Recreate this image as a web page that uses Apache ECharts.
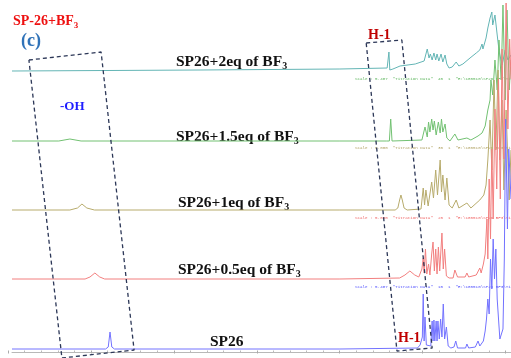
<!DOCTYPE html>
<html><head><meta charset="utf-8">
<script src="https://cdn.jsdelivr.net/npm/echarts@6/dist/echarts.min.js"></script>
<style>html,body{margin:0;padding:0;background:#fff}#c{width:511px;height:358px}</style>
</head><body><div id="c"></div><script>
// 1H NMR titration of SP26 with BF3 — stacked spectra, chemical shift in ppm.
// Each spectrum: [ppm, intensity above its own baseline]
const spec_2eq = [
  [13.80,-1],[9.58,0],[6.44,1],[5.38,2],[5.36,2],[5.34,18],[5.32,0],[5.30,-1],[5.25,1],[5.09,4],[4.75,6],[4.55,9],
  [4.48,21],[4.44,12],[4.41,16],[4.37,10],[4.33,17],[4.29,10],[4.26,16],[4.22,9],[4.17,16],[4.13,8],[4.08,15],[4.04,6],[3.99,2],
  [3.92,3],[3.83,8],[3.77,4],[3.68,6],[3.52,12],[3.38,17],[3.30,20],[3.25,26],[3.23,21],[3.16,32],[3.12,42],[3.07,52],[3.03,58],
  [3.01,45],[2.96,55],[2.91,35],[2.87,20],[2.85,15],[2.80,5],[2.73,20],[2.67,10],[2.60,15]
];
const spec_1_5eq = [
  [13.80,0],[12.75,0],[12.50,2],[12.25,0],[9.00,0],[6.44,0],[5.40,0],[5.33,0],[5.30,22],[5.27,0],[4.60,1],
  [4.53,14],[4.48,4],[4.45,19],[4.42,9],[4.38,22],[4.35,11],[4.32,20],[4.28,6],[4.23,19],[4.19,8],[4.16,22],[4.13,9],[4.08,17],[4.04,3],
  [3.97,0],[3.86,7],[3.79,1],[3.59,3],[3.50,1],[3.34,5],[3.25,8],[3.18,15],[3.12,31],[3.07,41],[3.05,61],[3.01,46],[2.96,81],
  [2.91,51],[2.87,101],[2.82,61],[2.78,136],[2.73,41],[2.69,131],[2.64,51],[2.60,81]
];
const spec_1eq = [
  [13.80,0],[12.50,0],[12.33,2],[12.23,6],[12.12,2],[11.95,0],[6.44,0],[5.20,0],[5.14,2],[5.10,10],[5.07,15],[5.04,10],[5.00,2],[4.93,0],
  [4.62,1],[4.57,22],[4.54,5],[4.51,20],[4.46,4],[4.38,28],[4.34,12],[4.29,40],[4.25,15],[4.19,50],[4.16,18],[4.13,35],[4.08,10],[4.04,32],
  [3.99,5],[3.92,2],[3.83,10],[3.77,2],[3.59,7],[3.50,2],[3.30,10],[3.21,15],[3.16,25],[3.12,50],[3.07,90],[3.03,40],[2.98,130],
  [2.94,60],[2.89,140],[2.85,50],[2.80,110],[2.76,20],[2.71,100],[2.64,10],[2.60,60]
];
const spec_0_5eq = [
  [13.80,0],[12.16,0],[12.05,2],[11.94,6],[11.83,2],[11.72,0],[6.44,0],[5.10,1],[4.98,4],[4.87,8],[4.76,4],[4.67,2],[4.65,1],
  [4.60,10],[4.57,21],[4.55,6],[4.52,30],[4.49,5],[4.45,15],[4.42,4],[4.38,25],[4.35,37],[4.32,8],[4.29,30],[4.26,5],[4.23,32],
  [4.20,8],[4.15,46],[4.12,10],[4.09,30],[4.05,3],[3.99,1],[3.90,1],[3.86,9],[3.80,2],[3.63,2],[3.59,6],[3.55,2],[3.38,4],[3.30,11],
  [3.27,6],[3.22,15],[3.18,25],[3.14,60],[3.12,20],[3.09,100],[3.06,40],[3.03,130],[3.00,60],[2.96,170],[2.92,90],[2.88,200],
  [2.84,80],[2.80,230],[2.76,120],[2.71,276],[2.67,150],[2.63,240],[2.60,200]
];
const spec_sp26 = [
  [13.80,0],[11.70,0],[11.64,2],[11.60,17],[11.56,2],[11.50,0],[6.44,0],[4.70,1],[4.64,4],[4.62,4],[4.59,12],[4.57,55],[4.55,8],
  [4.53,32],[4.50,4],[4.46,2],[4.40,3],[4.37,28],[4.35,8],[4.33,29],[4.31,8],[4.28,28],[4.26,8],[4.24,28],[4.21,10],[4.18,30],
  [4.15,12],[4.12,45],[4.09,10],[4.05,22],[4.01,3],[3.95,1],[3.88,2],[3.84,8],[3.80,1],[3.62,1],[3.59,5],[3.55,1],[3.40,2],[3.34,8],
  [3.30,3],[3.22,8],[3.18,18],[3.15,30],[3.12,50],[3.09,35],[3.06,90],[3.03,60],[3.00,110],[2.97,70],[2.94,100],[2.91,50],
  [2.88,30],[2.85,10],[2.81,8],[2.78,20],[2.75,90],[2.72,230],[2.68,120],[2.65,200],[2.60,150]
];

const spectra = [spec_2eq, spec_1_5eq, spec_1eq, spec_0_5eq, spec_sp26];
const spectrumNames = ['SP26+2eq of BF3', 'SP26+1.5eq of BF3', 'SP26+1eq of BF3', 'SP26+0.5eq of BF3', 'SP26'];
const scaleNotes = ['Scale : 5.487', 'Scale : 5.000', 'Scale : 5.000', 'Scale : 5.487'];
const noteRuns = ['40', '30', '20', '10'];

// Stack layout: vertical offset of each trace and colours
const baselines = [288, 217, 148, 79, 9];
const colors = ['#63b5b5', '#72c172', '#b7ab6c', '#f27f7f', '#7272ff'];
const noteColors = ['#5cb55c', '#b0a262', '#f06666', '#5050ff'];

// Dashed highlight boxes (ppm, stacked intensity)
const boxOH = [[13.42,298],[11.80,306],[11.06,8],[12.68,0],[13.42,298]];
const boxH1 = [[5.85,315],[5.05,318],[4.37,10],[5.16,7],[5.85,315]];

const chart = echarts.init(document.getElementById('c'), null, {renderer: 'canvas'});
const ctx = document.createElement('canvas').getContext('2d');
function textWidth(t, font) { ctx.font = font; return ctx.measureText(t).width; }
const SERIF = '"Liberation Serif", "Times New Roman", serif';
function subLabel(x, y, main, sub, size, color) {
  const font = `bold ${size}px ${SERIF}`;
  const w = textWidth(main, font);
  const items = [{type: 'text', x, y, style: {text: main, font, fill: color, align: 'left', verticalAlign: 'middle'}}];
  if (sub) items.push({type: 'text', x: x + w, y: y + size * 0.3,
    style: {text: sub, font: `bold ${Math.round(size * 0.62)}px ${SERIF}`, fill: color, align: 'left', verticalAlign: 'middle'}});
  return items;
}

const labelPos = [[176, 62], [176, 137], [178, 203], [178, 270], [210, 342]];
const notePos = [79, 148, 218, 287];
const graphics = [];
spectrumNames.forEach((n, i) => {
  const hasSub = n.endsWith('BF3');
  graphics.push(...subLabel(labelPos[i][0], labelPos[i][1], hasSub ? n.slice(0, -1) : n, hasSub ? '3' : '', 15.5, '#111'));
});
graphics.push(...subLabel(13, 21, 'SP-26+BF', '3', 14, '#ee1111'));
graphics.push(...subLabel(21, 41, '(c)', '', 18, '#2f72b8'));
graphics.push(...subLabel(60, 107, '-OH', '', 13, '#1e1eff'));
graphics.push(...subLabel(368, 35, 'H-1', '', 14, '#c00000'));
graphics.push(...subLabel(398, 338, 'H-1', '', 14, '#c00000'));
scaleNotes.forEach((s, i) => {
  graphics.push({type: 'text', x: 355, y: notePos[i], style: {
    text: s + '  "Titration Data"  ' + noteRuns[i] + '  1  "E:\\180510\\SP26 BF3\\Titration"',
    font: '4.2px "Liberation Mono", monospace', fill: noteColors[i], verticalAlign: 'middle'}});
});

const series = spectra.map((d, i) => ({
  type: 'line', xAxisIndex: 0, yAxisIndex: 0, symbol: 'none', animation: false, silent: true,
  lineStyle: {color: colors[i], width: 1}, data: d.map(([p, h]) => [p, baselines[i] + h])
}));
[boxOH, boxH1].forEach(b => series.push({
  type: 'line', xAxisIndex: 0, yAxisIndex: 0, symbol: 'none', animation: false, silent: true, clip: false, z: 5,
  lineStyle: {color: '#2c3757', width: 1.3, type: [4, 3]}, data: b
}));
series.push({type: 'line', xAxisIndex: 1, yAxisIndex: 1, data: []});
series.push({type: 'line', xAxisIndex: 2, yAxisIndex: 2, data: []});

chart.setOption({
  animation: false,
  grid: [
    {left: 12, right: 0, top: 0, bottom: 0},
    {left: 12, right: 0, top: 350, height: 2},
    {left: 3.09, right: -26.73, top: 350, height: 2}
  ],
  xAxis: [
    {gridIndex: 0, type: 'value', min: 2.6, max: 13.8, inverse: true, show: false},
    {gridIndex: 1, type: 'value', min: 2.6, max: 13.8, inverse: true,
      axisLine: {show: true, onZero: false, lineStyle: {color: '#b8b8b8', width: 1}},
      axisTick: {show: false}, axisLabel: {show: false}, splitLine: {show: false}},
    {gridIndex: 2, type: 'value', min: 2, max: 14, interval: 2, inverse: true,
      axisLine: {show: false, onZero: false},
      axisTick: {show: true, length: 3, lineStyle: {color: '#aaa'}},
      minorTick: {show: true, splitNumber: 5, length: 2, lineStyle: {color: '#bbb'}},
      axisLabel: {show: true, fontSize: 9, color: '#aaa', margin: 8}, splitLine: {show: false}}
  ],
  yAxis: [
    {gridIndex: 0, type: 'value', min: 0, max: 358, show: false},
    {gridIndex: 1, type: 'value', show: false},
    {gridIndex: 2, type: 'value', show: false}
  ],
  series,
  graphic: graphics
});
</script></body></html>
